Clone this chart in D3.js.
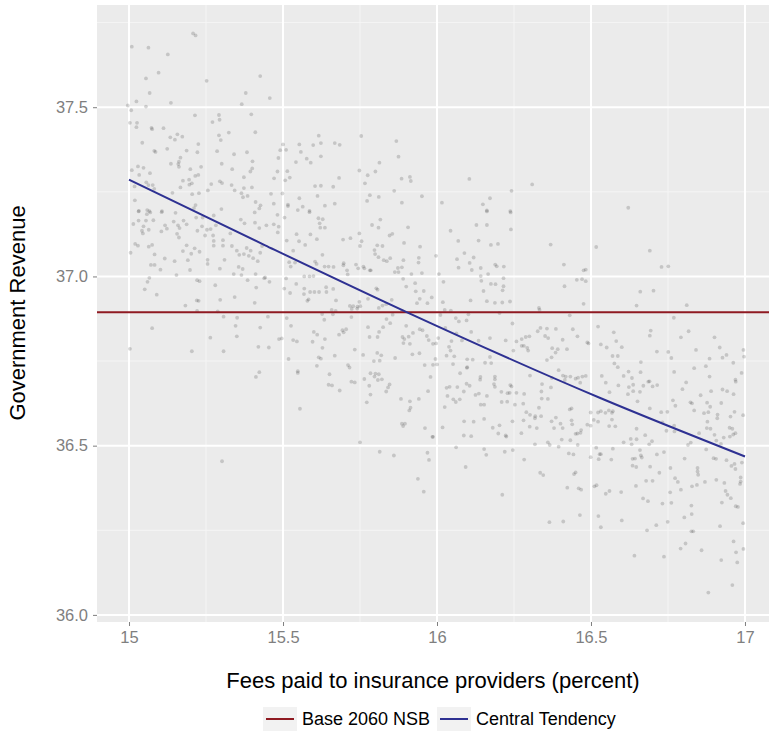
<!DOCTYPE html>
<html>
<head>
<meta charset="utf-8">
<script src="https://cdn.jsdelivr.net/npm/d3@7"></script>
<style>
  body { margin: 0; background: #fff; }
  svg text { font-family: "Liberation Sans", Arial, sans-serif; }
</style>
</head>
<body>
<svg id="viz" width="769" height="733"></svg>
<script>
// simulated draws: [fee percent, government revenue]
var draws = [
[15.208,37.718],[15.216,37.712],[15.009,37.679],[15.063,37.676],[15.126,37.656],[15.096,37.602],[15.055,37.585],[15.252,37.578],[15.426,37.592],[15.067,37.542],[15.379,37.542],[15.024,37.517],[15.136,37.513],[14.996,37.505],[15.055,37.502],[15.366,37.509],[15.007,37.491],[15.214,37.476],[15.292,37.477],[15.294,37.463],[15.271,37.456],[15.397,37.479],[15.003,37.454],[15.026,37.454],[15.024,37.441],[15.073,37.439],[15.075,37.435],[15.112,37.438],[15.410,37.426],[15.324,37.425],[15.157,37.420],[15.173,37.413],[15.134,37.411],[15.149,37.404],[15.292,37.417],[15.298,37.403],[15.043,37.395],[15.225,37.391],[15.082,37.371],[15.086,37.368],[15.124,37.377],[15.187,37.372],[15.222,37.367],[15.286,37.370],[15.383,37.367],[15.341,37.361],[15.167,37.351],[15.162,37.339],[15.160,37.332],[15.162,37.324],[15.136,37.333],[15.301,37.333],[15.401,37.340],[15.234,37.324],[15.199,37.317],[15.009,37.314],[15.029,37.325],[15.047,37.321],[15.068,37.305],[15.400,37.319],[15.394,37.310],[15.335,37.317],[15.373,37.293],[15.033,37.300],[15.215,37.297],[15.225,37.300],[15.175,37.283],[15.195,37.286],[15.196,37.271],[15.204,37.275],[15.167,37.263],[15.056,37.278],[15.063,37.270],[15.077,37.270],[15.082,37.259],[15.018,37.266],[15.267,37.273],[15.295,37.281],[15.302,37.276],[15.333,37.270],[15.343,37.254],[15.373,37.261],[15.399,37.263],[15.365,37.246],[15.370,37.234],[15.385,37.238],[15.256,37.254],[15.141,37.247],[15.205,37.243],[15.227,37.246],[15.019,37.225],[15.411,37.220],[15.427,37.210],[15.423,37.201],[15.300,37.199],[15.216,37.211],[15.211,37.202],[15.032,37.194],[15.059,37.196],[15.107,37.193],[15.066,37.193],
[15.457,37.527],[15.616,37.416],[15.754,37.415],[15.500,37.390],[15.553,37.390],[15.623,37.394],[15.598,37.388],[15.668,37.394],[15.684,37.389],[15.491,37.373],[15.510,37.374],[15.558,37.368],[15.868,37.400],[15.485,37.350],[15.577,37.348],[15.590,37.336],[15.542,37.338],[15.623,37.355],[15.875,37.354],[15.813,37.336],[15.482,37.310],[15.514,37.311],[15.471,37.290],[15.507,37.284],[15.522,37.292],[15.748,37.313],[15.775,37.299],[15.800,37.310],[15.682,37.291],[15.885,37.289],[15.912,37.294],[15.915,37.282],[15.766,37.275],[15.604,37.267],[15.623,37.268],[15.663,37.265],[15.461,37.244],[15.498,37.245],[15.612,37.238],[15.553,37.231],[15.782,37.240],[15.811,37.235],[15.861,37.253],[15.951,37.237],[15.470,37.215],[15.516,37.212],[15.516,37.208],[15.564,37.206],[15.548,37.196],[15.586,37.194],[15.636,37.209],[15.668,37.215],[15.773,37.223],[15.886,37.218],
[16.105,37.288],[16.309,37.272],[16.242,37.253],[16.172,37.231],[16.016,37.218],[16.149,37.213],[16.162,37.195],[16.238,37.193],[16.621,37.203],
[15.031,37.192],[15.058,37.184],[15.069,37.189],[15.106,37.190],[15.151,37.188],[15.014,37.155],[15.031,37.165],[15.055,37.165],[15.079,37.166],[15.047,37.148],[15.042,37.135],[15.045,37.127],[15.064,37.138],[15.105,37.133],[15.117,37.151],[15.123,37.141],[15.145,37.162],[15.159,37.151],[15.164,37.143],[15.156,37.126],[15.162,37.115],[15.177,37.165],[15.187,37.154],[15.218,37.174],[15.239,37.174],[15.237,37.148],[15.222,37.135],[15.247,37.121],[15.253,37.138],[15.265,37.140],[15.275,37.180],[15.282,37.151],[15.273,37.121],[15.275,37.105],[15.275,37.091],[15.305,37.107],[15.305,37.091],[15.329,37.127],[15.334,37.090],[15.350,37.076],[15.358,37.064],[15.373,37.066],[15.382,37.084],[15.389,37.061],[15.395,37.076],[15.403,37.054],[15.418,37.045],[15.426,37.070],[15.363,37.168],[15.375,37.157],[15.409,37.159],[15.423,37.143],[15.408,37.189],[15.432,37.090],[15.020,37.096],[15.029,37.091],[15.064,37.088],[15.075,37.093],[15.005,37.070],[15.083,37.065],[15.175,37.075],[15.187,37.092],[15.202,37.067],[15.213,37.083],[15.229,37.073],[15.116,37.053],[15.148,37.045],[15.191,37.048],[15.255,37.049],[15.255,37.037],[15.310,37.049],[15.071,37.034],[15.083,37.034],[15.102,37.020],[15.198,37.019],[15.295,37.023],[15.356,37.028],[15.369,37.022],[15.340,37.007],[15.365,37.004],[15.411,37.007],[15.154,37.004],[15.066,36.996],[15.060,36.984],[15.051,36.962],[15.090,36.946],[15.221,36.989],[15.229,36.986],[15.280,36.974],[15.385,36.989],[15.413,36.967],[15.439,36.995],[15.220,36.929],[15.226,36.928],[15.183,36.914],[15.296,36.931],[15.343,36.939],[15.408,36.922],[15.221,36.898],[15.288,36.897],[15.307,36.881],[15.351,36.878],[15.346,36.854],[15.350,36.823],[15.075,36.847],[15.264,36.819],[15.426,36.849],[15.003,36.786],[15.204,36.779],[15.307,36.779],[15.420,36.792],[15.423,36.717],[15.412,36.703],
[15.482,37.182],[15.505,37.174],[15.470,37.154],[15.486,37.147],[15.483,37.130],[15.586,37.190],[15.615,37.172],[15.629,37.169],[15.619,37.157],[15.636,37.144],[15.621,37.144],[15.446,37.151],[15.512,37.106],[15.544,37.125],[15.552,37.104],[15.589,37.124],[15.610,37.110],[15.572,37.093],[15.628,37.064],[15.533,37.076],[15.520,37.042],[15.525,37.029],[15.539,37.041],[15.604,37.044],[15.609,37.037],[15.635,37.029],[15.648,37.029],[15.664,37.028],[15.695,37.109],[15.719,37.113],[15.748,37.127],[15.755,37.104],[15.750,37.090],[15.789,37.152],[15.810,37.144],[15.816,37.168],[15.823,37.090],[15.806,37.092],[15.797,37.078],[15.799,37.066],[15.810,37.057],[15.827,37.048],[15.837,37.045],[15.848,37.054],[15.846,37.121],[15.855,37.126],[15.906,37.145],[15.893,37.099],[15.945,37.088],[15.941,37.055],[15.940,37.041],[15.891,37.048],[15.886,37.027],[15.873,37.025],[15.863,37.013],[15.875,37.013],[15.890,36.993],[15.917,37.007],[15.951,37.010],[15.696,37.033],[15.697,37.039],[15.708,37.018],[15.710,37.006],[15.737,37.035],[15.744,37.024],[15.761,37.029],[15.764,37.024],[15.782,37.018],[15.785,37.018],[15.442,36.997],[15.456,36.984],[15.510,36.994],[15.543,36.978],[15.569,37.000],[15.586,37.000],[15.599,37.001],[15.504,36.964],[15.523,36.951],[15.569,36.964],[15.568,36.948],[15.588,36.954],[15.602,36.954],[15.617,36.954],[15.640,36.968],[15.641,36.954],[15.663,36.963],[15.583,36.932],[15.579,36.928],[15.672,36.929],[15.803,36.965],[15.807,36.961],[15.776,36.934],[15.853,36.931],[15.929,36.980],[15.957,36.957],[15.931,36.956],[15.900,36.970],[15.944,36.934],[15.935,36.921],[15.969,36.921],[15.983,36.938],[15.717,36.913],[15.728,36.912],[15.742,36.911],[15.748,36.925],[15.751,36.912],[15.741,36.905],[15.723,36.904],[15.722,36.880],[15.658,36.901],[15.671,36.898],[15.627,36.889],[15.662,36.888],[15.811,36.907],[15.823,36.914],[15.835,36.918],[15.886,36.899],[15.856,36.887],[15.836,36.874],[15.848,36.862],[15.451,36.881],[15.512,36.877],[15.526,36.854],[15.634,36.872],[15.682,36.828],[15.693,36.841],[15.705,36.844],[15.697,36.835],[15.600,36.836],[15.611,36.828],[15.636,36.815],[15.596,36.807],[15.776,36.850],[15.781,36.821],[15.807,36.821],[15.812,36.836],[15.825,36.850],[15.900,36.854],[15.888,36.821],[15.894,36.815],[15.908,36.822],[15.922,36.833],[15.944,36.844],[15.953,36.841],[15.967,36.824],[15.973,36.812],[15.891,36.803],[15.912,36.801],[15.487,36.815],[15.496,36.817],[15.454,36.790],[15.533,36.812],[15.545,36.808],[15.628,36.789],[15.733,36.784],[15.668,36.766],[15.760,36.768],[15.806,36.774],[15.819,36.767],[15.864,36.759],[15.920,36.770],[15.943,36.773],[15.518,36.756],[15.616,36.761],[15.623,36.757],[15.610,36.736],[15.711,36.738],[15.716,36.731],[15.795,36.750],[15.814,36.751],[15.960,36.738],[15.548,36.720],[15.548,36.715],[15.651,36.711],[15.722,36.689],[15.733,36.687],[15.648,36.680],[15.659,36.678],[15.684,36.663],[15.764,36.697],[15.784,36.714],[15.800,36.713],[15.811,36.711],[15.797,36.704],[15.808,36.694],[15.821,36.696],[15.846,36.681],[15.841,36.672],[15.835,36.660],[15.780,36.677],[15.784,36.651],[15.772,36.628],[15.883,36.638],[15.912,36.631],[15.914,36.612],[15.910,36.604],[15.941,36.638],[15.971,36.661],[15.979,36.703],[15.555,36.609],
[16.162,37.192],[16.239,37.189],[16.128,37.152],[16.162,37.152],[16.240,37.139],[16.044,37.135],[16.069,37.105],[16.135,37.106],[16.175,37.093],[16.198,37.096],[16.369,37.094],[16.517,37.087],[15.997,37.061],[16.089,37.069],[16.065,37.051],[16.106,37.040],[16.119,37.056],[16.070,37.026],[16.142,37.025],[16.113,37.019],[16.189,37.035],[16.194,37.030],[16.217,37.029],[16.412,37.035],[16.476,37.018],[16.483,37.020],[16.006,37.007],[16.166,37.007],[16.142,37.001],[16.144,36.987],[16.021,36.984],[16.175,36.978],[16.190,36.977],[16.216,36.995],[16.216,36.971],[16.213,36.959],[16.151,36.957],[16.414,36.971],[16.454,36.990],[16.471,36.992],[16.483,36.986],[16.019,36.924],[16.109,36.929],[16.162,36.927],[16.188,36.922],[16.212,36.923],[16.237,36.926],[16.331,36.907],[16.333,36.901],[16.476,36.919],[16.025,36.901],[16.045,36.899],[16.011,36.886],[16.102,36.888],[16.203,36.892],[16.431,36.885],[16.061,36.877],[16.071,36.867],[16.096,36.870],[16.027,36.848],[16.063,36.832],[16.111,36.836],[16.245,36.861],[16.327,36.838],[16.336,36.848],[16.357,36.846],[16.386,36.845],[16.351,36.824],[16.361,36.818],[16.441,36.844],[16.456,36.823],[16.523,36.852],[16.004,36.818],[15.987,36.801],[15.997,36.802],[16.047,36.809],[16.081,36.811],[16.135,36.810],[16.172,36.818],[16.223,36.811],[16.258,36.808],[16.275,36.815],[16.288,36.821],[16.300,36.823],[16.275,36.795],[16.282,36.795],[16.293,36.789],[16.296,36.781],[16.248,36.781],[16.408,36.813],[16.422,36.785],[16.488,36.805],[16.492,36.802],[16.374,36.788],[16.385,36.775],[16.392,36.785],[16.357,36.753],[16.372,36.761],[16.039,36.792],[16.044,36.781],[16.031,36.766],[16.056,36.764],[16.052,36.741],[15.995,36.756],[16.098,36.755],[16.116,36.754],[16.172,36.762],[16.098,36.732],[16.097,36.730],[16.156,36.745],[16.176,36.744],[15.987,36.739],[16.000,36.740],[16.075,36.714],[16.141,36.703],[16.188,36.704],[16.188,36.696],[16.140,36.695],[16.185,36.682],[16.106,36.677],[16.066,36.673],[16.096,36.683],[16.031,36.671],[16.041,36.674],[16.034,36.647],[16.053,36.637],[16.074,36.637],[16.061,36.629],[16.087,36.660],[16.125,36.650],[16.136,36.654],[16.162,36.647],[16.188,36.674],[16.209,36.659],[16.229,36.655],[16.238,36.679],[16.242,36.675],[16.236,36.656],[16.258,36.656],[16.283,36.653],[16.302,36.707],[16.341,36.682],[16.370,36.672],[16.360,36.638],[16.339,36.660],[16.340,36.639],[16.373,36.700],[16.395,36.723],[16.409,36.707],[16.418,36.704],[16.433,36.704],[16.450,36.698],[16.458,36.701],[16.472,36.704],[16.483,36.706],[16.465,36.686],[16.415,36.694],[16.331,36.612],[16.280,36.624],[16.253,36.621],[16.210,36.629],[16.228,36.630],[16.142,36.621],[16.153,36.621],[16.025,36.614],[16.290,36.599],[16.302,36.591],[16.319,36.587],[16.338,36.587],[16.386,36.583],[16.431,36.607],[16.437,36.610],[16.499,36.598],[16.523,36.598],
[16.691,37.076],[16.729,37.028],[16.751,37.030],[16.660,36.955],[16.703,36.958],[16.648,36.914],[16.811,36.915],[16.769,36.878],[16.574,36.835],[16.694,36.840],[16.691,36.825],[16.817,36.838],[16.792,36.820],[16.901,36.820],[16.532,36.799],[16.551,36.790],[16.582,36.809],[16.600,36.791],[16.570,36.765],[16.587,36.765],[16.714,36.778],[16.751,36.777],[16.761,36.759],[16.841,36.783],[16.918,36.790],[16.940,36.768],[16.927,36.760],[16.885,36.757],[16.995,36.783],[16.997,36.763],[16.962,36.745],[16.989,36.715],[16.576,36.743],[16.587,36.732],[16.662,36.747],[16.622,36.719],[16.606,36.706],[16.633,36.700],[16.661,36.717],[16.535,36.706],[16.548,36.686],[16.589,36.678],[16.623,36.673],[16.637,36.680],[16.670,36.677],[16.686,36.689],[16.690,36.690],[16.700,36.675],[16.715,36.679],[16.770,36.718],[16.835,36.729],[16.873,36.735],[16.885,36.704],[16.809,36.687],[16.797,36.667],[16.890,36.661],[16.927,36.666],[16.942,36.661],[16.963,36.652],[16.970,36.689],[16.969,36.695],[16.560,36.658],[16.620,36.652],[16.637,36.661],[16.659,36.659],[16.651,36.631],[16.691,36.610],[16.728,36.599],[16.748,36.600],[16.766,36.634],[16.774,36.618],[16.823,36.628],[16.828,36.625],[16.856,36.649],[16.877,36.627],[16.887,36.615],[16.923,36.626],[16.835,36.604],[16.867,36.596],[16.881,36.599],[16.911,36.592],[16.953,36.586],[16.966,36.600],[16.994,36.590],[16.532,36.602],[16.558,36.604],[16.571,36.602],[16.568,36.597],[16.547,36.597],
[15.302,36.454],
[15.886,36.565],[15.896,36.565],[15.890,36.558],[15.961,36.552],[15.985,36.526],[15.750,36.510],[15.814,36.482],[15.860,36.471],[15.969,36.479],[15.974,36.458],[15.938,36.402],[15.957,36.364],
[16.018,36.554],[16.088,36.572],[16.119,36.571],[16.153,36.579],[16.181,36.553],[16.203,36.560],[16.199,36.536],[16.223,36.530],[16.225,36.527],[16.245,36.572],[16.281,36.575],[16.301,36.556],[16.324,36.552],[16.318,36.581],[16.372,36.572],[16.380,36.552],[16.401,36.565],[16.408,36.552],[16.437,36.575],[16.439,36.563],[16.450,36.535],[16.456,36.536],[16.466,36.538],[16.468,36.546],[16.488,36.562],[16.499,36.559],[16.509,36.576],[16.523,36.571],[15.987,36.526],[16.087,36.530],[16.111,36.528],[16.062,36.495],[16.153,36.490],[16.160,36.473],[16.220,36.482],[16.246,36.487],[16.274,36.537],[16.283,36.459],[16.318,36.504],[16.360,36.510],[16.366,36.502],[16.395,36.497],[16.405,36.518],[16.433,36.516],[16.457,36.502],[16.428,36.477],[16.443,36.474],[16.517,36.494],[16.499,36.466],[16.525,36.460],[16.528,36.475],[16.093,36.437],[16.335,36.420],[16.345,36.413],[16.445,36.416],[16.450,36.421],[16.423,36.376],[16.460,36.374],[16.468,36.370],[16.511,36.380],[16.518,36.383],[16.212,36.355],[16.464,36.295],[16.365,36.274],[16.410,36.276],[16.524,36.292],
[16.568,36.577],[16.559,36.558],[16.579,36.557],[16.606,36.510],[16.629,36.520],[16.632,36.504],[16.648,36.519],[16.648,36.550],[16.676,36.531],[16.689,36.504],[16.698,36.513],[16.732,36.569],[16.745,36.544],[16.770,36.559],[16.771,36.542],[16.824,36.509],[16.815,36.502],[16.851,36.537],[16.876,36.552],[16.878,36.571],[16.888,36.550],[16.901,36.532],[16.907,36.515],[16.922,36.505],[16.950,36.553],[16.959,36.550],[16.951,36.527],[16.962,36.533],[16.969,36.537],[16.931,36.524],[16.910,36.581],[16.532,36.475],[16.571,36.491],[16.566,36.459],[16.635,36.461],[16.643,36.462],[16.659,36.487],[16.662,36.471],[16.665,36.465],[16.737,36.481],[16.714,36.474],[16.692,36.438],[16.635,36.441],[16.647,36.437],[16.722,36.420],[16.758,36.434],[16.804,36.462],[16.846,36.434],[16.846,36.424],[16.848,36.414],[16.874,36.489],[16.898,36.463],[16.906,36.461],[16.940,36.457],[16.966,36.446],[16.956,36.440],[16.969,36.431],[16.990,36.450],[16.679,36.396],[16.700,36.396],[16.773,36.404],[16.782,36.393],[16.828,36.380],[16.844,36.384],[16.870,36.393],[16.907,36.399],[16.933,36.390],[16.986,36.406],[16.986,36.394],[16.984,36.387],[16.548,36.358],[16.560,36.366],[16.598,36.363],[16.646,36.381],[16.669,36.344],[16.685,36.336],[16.732,36.329],[16.761,36.331],[16.757,36.362],[16.792,36.370],[16.803,36.288],[16.826,36.323],[16.827,36.298],[16.925,36.332],[16.937,36.366],[16.943,36.355],[16.954,36.345],[16.970,36.321],[16.977,36.319],[16.600,36.279],[16.712,36.265],[16.682,36.250],[16.749,36.275],[16.826,36.247],[16.832,36.247],[16.919,36.262],[16.994,36.271],[16.532,36.259],[16.791,36.196],[16.807,36.211],[16.859,36.191],[16.963,36.217],[16.971,36.185],[16.975,36.155],[16.995,36.195],[16.923,36.162],[16.641,36.175],[16.737,36.172],[16.959,36.088],[16.881,36.066]
];

var baseValue = 36.894;              // Base 2060 NSB
// Central Tendency curve
var trendFees = [15.0, 15.442, 15.903, 16.532, 17.0];
var trendRevenue = [37.286, 37.092, 36.894, 36.640, 36.468];

var xTicks = [15, 15.5, 16, 16.5, 17];
var xTickLabels = ["15", "15.5", "16", "16.5", "17"];
var xMinor = [15.25, 15.75, 16.25, 16.75];
var yTicks = [36.0, 36.5, 37.0, 37.5];
var yTickLabels = ["36.0", "36.5", "37.0", "37.5"];
var yMinor = [36.25, 36.75, 37.25, 37.75];

var legendLabels = ["Base 2060 NSB", "Central Tendency"];
var legendColors = ["#8f1a22", "#2e3192"];

var svg = d3.select("#viz");
var panelLeft = 97, panelRight = 769, panelTop = 5, panelBottom = 622;

var x = d3.scaleLinear().domain([14.896, 17.078]).range([panelLeft, panelRight]);
var y = d3.scaleLinear().domain([35.979, 37.802]).range([panelBottom, panelTop]);

// panel
svg.append("rect")
  .attr("x", panelLeft).attr("y", panelTop)
  .attr("width", panelRight - panelLeft).attr("height", panelBottom - panelTop)
  .attr("fill", "#ebebeb");

svg.selectAll(".xminor").data(xMinor).enter().append("line")
  .attr("x1", d => x(d)).attr("x2", d => x(d))
  .attr("y1", panelTop).attr("y2", panelBottom)
  .attr("stroke", "#f5f5f5").attr("stroke-width", 1);
svg.selectAll(".yminor").data(yMinor).enter().append("line")
  .attr("x1", panelLeft).attr("x2", panelRight)
  .attr("y1", d => y(d)).attr("y2", d => y(d))
  .attr("stroke", "#f5f5f5").attr("stroke-width", 1);
svg.selectAll(".xmajor").data(xTicks).enter().append("line")
  .attr("x1", d => x(d)).attr("x2", d => x(d))
  .attr("y1", panelTop).attr("y2", panelBottom)
  .attr("stroke", "#fff").attr("stroke-width", 2);
svg.selectAll(".ymajor").data(yTicks).enter().append("line")
  .attr("x1", panelLeft).attr("x2", panelRight)
  .attr("y1", d => y(d)).attr("y2", d => y(d))
  .attr("stroke", "#fff").attr("stroke-width", 2);

// points
svg.append("g").selectAll("circle").data(draws).enter().append("circle")
  .attr("cx", d => x(d[0])).attr("cy", d => y(d[1]))
  .attr("r", 1.9)
  .attr("fill", "#000").attr("fill-opacity", 0.16);

// lines
svg.append("line")
  .attr("x1", panelLeft).attr("x2", panelRight)
  .attr("y1", y(baseValue)).attr("y2", y(baseValue))
  .attr("stroke", legendColors[0]).attr("stroke-width", 2);

var trendLine = d3.line()
  .x((d, i) => x(trendFees[i]))
  .y(d => y(d))
  .curve(d3.curveMonotoneX);
svg.append("path")
  .attr("d", trendLine(trendRevenue))
  .attr("fill", "none")
  .attr("stroke", legendColors[1]).attr("stroke-width", 2);

// axes
var xAxis = svg.append("g").attr("transform", "translate(0," + panelBottom + ")")
  .call(d3.axisBottom(x).tickValues(xTicks).tickFormat((d, i) => xTickLabels[i]).tickSize(4).tickPadding(5));
var yAxis = svg.append("g").attr("transform", "translate(" + panelLeft + ",0)")
  .call(d3.axisLeft(y).tickValues(yTicks).tickFormat((d, i) => yTickLabels[i]).tickSize(4).tickPadding(5));
[xAxis, yAxis].forEach(g => {
  g.select(".domain").remove();
  g.selectAll(".tick line").attr("stroke", "#7f7f7f");
  g.selectAll(".tick text").attr("fill", "#7f7f7f")
    .style("font-size", "16.5px").style("font-family", "'Liberation Sans', Arial, sans-serif");
});

svg.append("text")
  .attr("x", 433).attr("y", 688)
  .attr("text-anchor", "middle").style("font-size", "22px")
  .text("Fees paid to insurance providers (percent)");
svg.append("text")
  .attr("transform", "translate(25," + 313 + ") rotate(-90)")
  .attr("text-anchor", "middle").style("font-size", "22px")
  .text("Government Revenue");

// legend
var legendX = [263, 437];
var lg = svg.selectAll(".legend").data(legendLabels).enter().append("g")
  .attr("transform", (d, i) => "translate(" + legendX[i] + ",707)");
lg.append("rect").attr("width", 34).attr("height", 24).attr("fill", "#f2f2f2");
lg.append("line").attr("x1", 3).attr("x2", 31).attr("y1", 12).attr("y2", 12)
  .attr("stroke", (d, i) => legendColors[i]).attr("stroke-width", 2);
lg.append("text").attr("x", 39).attr("y", 18).style("font-size", "18px").text(d => d);
</script>
</body>
</html>
